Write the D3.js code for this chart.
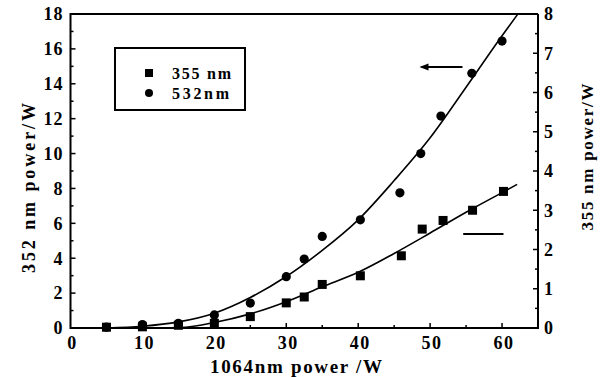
<!DOCTYPE html>
<html>
<head>
<meta charset="utf-8">
<script src="https://cdn.jsdelivr.net/npm/d3@7"></script>
<style>
  body { margin: 0; background: #fff; }
  svg text { font-family: "Liberation Serif", serif !important; font-weight: bold; }
</style>
</head>
<body>
<script>
// measured points, 1064 nm pump power (W)
let x532 = [5, 10, 15, 20, 25, 30, 32.5, 35, 40.3, 45.8, 48.7, 51.5, 55.8, 60];
let p532 = [0.05, 0.2, 0.27, 0.75, 1.43, 2.94, 3.95, 5.25, 6.2, 7.75, 10.0, 12.15, 14.6, 16.45];

let x355 = [5, 10, 15, 20, 25, 30, 32.5, 35, 40.3, 46, 48.9, 51.8, 55.9, 60.2];
let p355 = [0.02, 0.03, 0.07, 0.12, 0.29, 0.64, 0.79, 1.11, 1.33, 1.84, 2.52, 2.74, 3.0, 3.48];

// fitted curves
let fitX532 = [5, 10, 15, 20, 25, 30, 35, 40, 45, 50, 55, 60, 62.2];
let fit532 = [0, 0.1, 0.35, 0.85, 1.75, 2.95, 4.45, 6.2, 8.45, 10.9, 13.8, 16.75, 18.0];

let fitX355 = [5, 12, 16, 20, 25, 30, 35, 40, 45, 50, 55, 60, 62.1];
let fit355 = [0, 0, 0.02, 0.14, 0.36, 0.67, 1.05, 1.42, 1.9, 2.42, 2.95, 3.45, 3.66];

let xTicks = [0, 10, 20, 30, 40, 50, 60];
let leftTicks = [0, 2, 4, 6, 8, 10, 12, 14, 16, 18];
let rightTicks = [0, 1, 2, 3, 4, 5, 6, 7, 8];

var width = 602, height = 377;

var svg = d3.select("body").append("svg")
    .attr("width", width)
    .attr("height", height);

var x = d3.scaleLinear().domain([0, 65]).range([70.5, 538]);
var yL = d3.scaleLinear().domain([0, 18]).range([328, 14]);
var yR = d3.scaleLinear().domain([0, 8]).range([328, 14]);

function label(sel, size) {
  return sel.attr("font-family", "Liberation Serif")
      .style("font-family", "'Liberation Serif'")
      .style("font-weight", "bold")
      .style("font-size", size + "px")
      .attr("fill", "#000");
}

// frame: left, bottom, right axis lines and top border
svg.append("path")
    .attr("d", "M" + x(65) + "," + yL(18) + "H" + x(0) + "V" + yL(0) + "H" + x(65) + "V" + yL(18))
    .attr("fill", "none")
    .attr("stroke", "#000")
    .attr("stroke-width", 2);

// ticks, pointing into the plot
var g = svg.append("g").attr("stroke", "#000").attr("stroke-width", 1.5);

d3.range(0, 19, 1).forEach(function(v) {
  var len = v % 2 === 0 ? 5 : 3;
  g.append("line").attr("x1", x(0)).attr("x2", x(0) + len).attr("y1", yL(v)).attr("y2", yL(v));
});
d3.range(0, 8.01, 0.5).forEach(function(v) {
  var len = v % 1 === 0 ? 5 : 3;
  g.append("line").attr("x1", x(65)).attr("x2", x(65) - len).attr("y1", yR(v)).attr("y2", yR(v));
});
d3.range(5, 65, 5).forEach(function(v) {
  var len = v % 10 === 0 ? 5 : 3;
  g.append("line").attr("x1", x(v)).attr("x2", x(v)).attr("y1", yL(0)).attr("y2", yL(0) - len);
});

// tick labels
label(svg.selectAll(".lt").data(leftTicks).enter().append("text"), 18)
    .attr("x", x(0) - 7).attr("y", d => yL(d))
    .attr("dy", "0.35em").attr("text-anchor", "end")
    .style("letter-spacing", "1px")
    .text(d => d);
label(svg.selectAll(".rt").data(rightTicks).enter().append("text"), 18)
    .attr("x", x(65) + 6).attr("y", d => yR(d))
    .attr("dy", "0.35em").attr("text-anchor", "start")
    .text(d => d);
label(svg.selectAll(".bt").data(xTicks).enter().append("text"), 18)
    .attr("x", d => x(d) + 2).attr("y", 343)
    .attr("dy", "0.35em").attr("text-anchor", "middle")
    .style("letter-spacing", "1.5px")
    .text(d => d);

// axis titles
label(svg.append("text"), 19)
    .attr("x", 296).attr("y", 373)
    .attr("text-anchor", "middle")
    .attr("textLength", 172).attr("lengthAdjust", "spacing")
    .text("1064nm power /W");
label(svg.append("text"), 18)
    .attr("transform", "translate(35,188) rotate(-90)")
    .attr("text-anchor", "middle")
    .attr("textLength", 170).attr("lengthAdjust", "spacing")
    .text("352 nm power/W");
label(svg.append("text"), 17)
    .attr("transform", "translate(593,157) rotate(-90)")
    .attr("text-anchor", "middle")
    .attr("textLength", 147).attr("lengthAdjust", "spacing")
    .text("355 nm  power/W");

// fit curves
var line532 = d3.line().x((d, i) => x(fitX532[i])).y(d => yL(d)).curve(d3.curveMonotoneX);
var line355 = d3.line().x((d, i) => x(fitX355[i])).y(d => yR(d)).curve(d3.curveMonotoneX);

svg.append("path").attr("d", line532(fit532))
    .attr("fill", "none").attr("stroke", "#000").attr("stroke-width", 1.6);
svg.append("path").attr("d", line355(fit355))
    .attr("fill", "none").attr("stroke", "#000").attr("stroke-width", 1.6);

// markers
svg.selectAll(".sq").data(p355).enter().append("rect")
    .attr("x", (d, i) => x(x355[i]) - 4.5)
    .attr("y", d => yR(d) - 4.5)
    .attr("width", 9).attr("height", 9)
    .attr("fill", "#000");
svg.selectAll(".ci").data(p532).enter().append("circle")
    .attr("cx", (d, i) => x(x532[i]))
    .attr("cy", d => yL(d))
    .attr("r", 4.6)
    .attr("fill", "#000");

// axis-pointer arrows
svg.append("line")
    .attr("x1", x(48.8)).attr("x2", x(54.5)).attr("y1", 67).attr("y2", 67)
    .attr("stroke", "#000").attr("stroke-width", 2.2);
svg.append("path")
    .attr("d", "M" + (x(48.8) - 2) + ",67 l9,-3.5 v7 z")
    .attr("fill", "#000");
svg.append("line")
    .attr("x1", x(54.6)).attr("x2", x(60.2)).attr("y1", 234).attr("y2", 234)
    .attr("stroke", "#000").attr("stroke-width", 2.2);

// legend
svg.append("rect")
    .attr("x", 115).attr("y", 48).attr("width", 130).attr("height", 62)
    .attr("fill", "none").attr("stroke", "#000").attr("stroke-width", 2);
svg.append("rect").attr("x", 145).attr("y", 69).attr("width", 8).attr("height", 8).attr("fill", "#000");
svg.append("circle").attr("cx", 149).attr("cy", 93).attr("r", 4).attr("fill", "#000");
label(svg.append("text"), 16).attr("x", 172).attr("y", 79)
    .attr("textLength", 59).attr("lengthAdjust", "spacing")
    .text("355 nm");
label(svg.append("text"), 16).attr("x", 172).attr("y", 99)
    .attr("textLength", 57).attr("lengthAdjust", "spacing")
    .text("532nm");
</script>
</body>
</html>
